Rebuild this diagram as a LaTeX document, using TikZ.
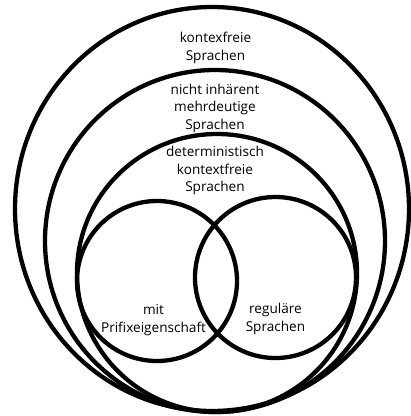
\documentclass[tikz,border=0pt]{standalone}
\usepackage{fontspec}
\setmainfont{Open Sans}
\usepackage{tikz}

\tikzset{
  ring/.style={line width=4.3pt, black},
  lbl/.style={align=center, inner sep=0pt, font=\fontsize{13.6}{17.5}\selectfont}
}

\begin{document}
\begin{tikzpicture}[x=1pt,y=-1pt]
\useasboundingbox (0,0) rectangle (411,416);
% Nested language classes
\draw[ring] (212,209) ellipse [x radius=197, y radius=202];
\draw[ring] (215,241) ellipse [x radius=170, y radius=171];
\draw[ring] (217,273) ellipse [x radius=140, y radius=139];
% Two overlapping inner classes
\draw[ring] (157,281) ellipse [x radius=80, y radius=80];
\draw[ring] (275.5,277.5) ellipse [x radius=80.5, y radius=80.5];
% Labels
\node[lbl] (cfl) at (215.5,48) {kontexfreie\\Sprachen};
\node[lbl] (nimd) at (215,108) {nicht inhärent\\mehrdeutige\\Sprachen};
\node[lbl] (dcfl) at (215,170.5) {deterministisch\\kontextfreie\\Sprachen};
\node[lbl] (prefix) at (153.5,320) {mit\\Prifixeigenschaft};
\node[lbl] (reg) at (275.5,319) {reguläre\\Sprachen};
\end{tikzpicture}
\end{document}
